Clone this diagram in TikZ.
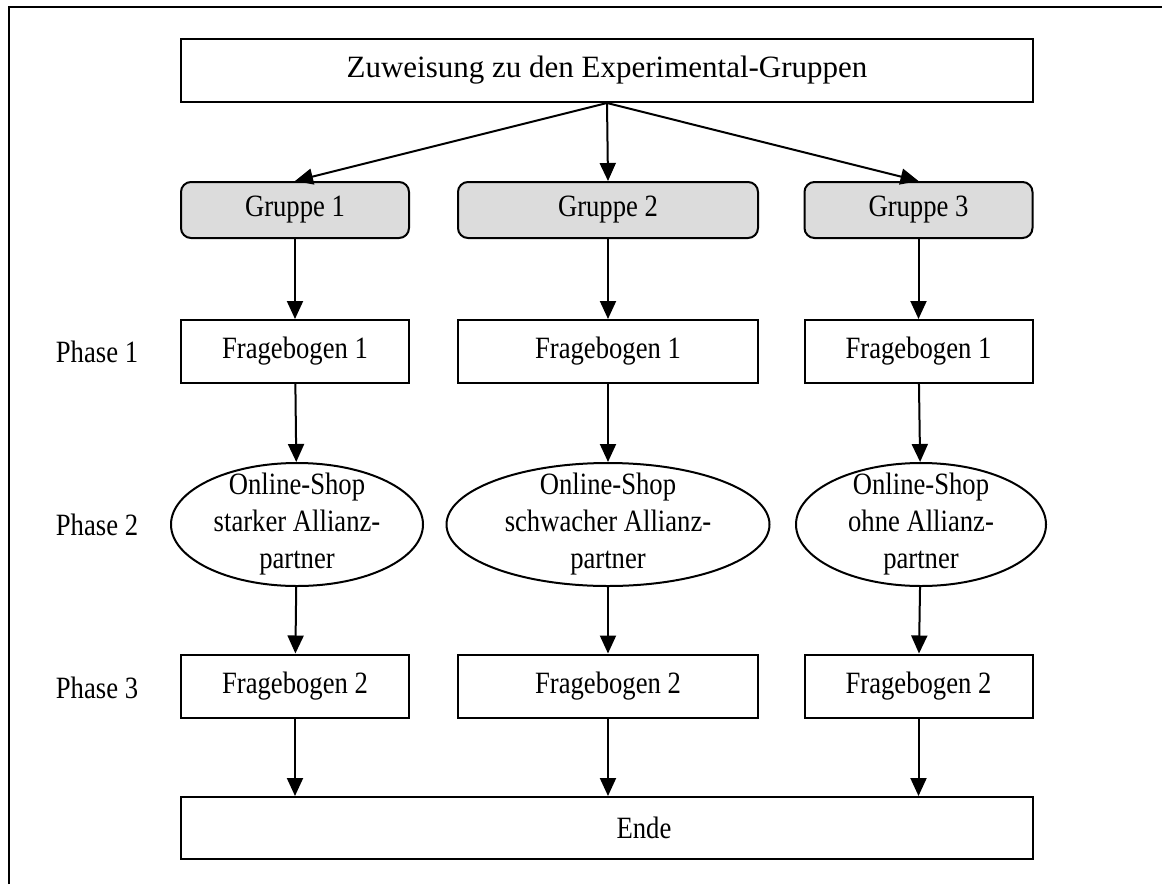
\documentclass[tikz,border=0pt]{standalone}
\usepackage{fontspec}
\setmainfont{Liberation Serif}
\newfontfamily\narrowfont{Liberation Serif}[FakeStretch=0.86]
\usetikzlibrary{arrows.meta,shapes.geometric}
\newcommand\textsz{\fontsize{15.5}{18.5}\selectfont}
\definecolor{boxgrey}{HTML}{DCDCDC}
\tikzset{
  box/.style={draw, rectangle, minimum height=31.5pt, inner sep=0pt, font=\narrowfont\textsz},
  gruppe/.style={box, fill=boxgrey, rounded corners=5pt, minimum height=28pt},
  shop/.style={draw, ellipse, inner xsep=-20pt, inner ysep=-8pt, align=center, minimum height=61.5pt, font=\narrowfont\textsz},
  phase/.style={font=\narrowfont\textsz},
}
\begin{document}
\begin{tikzpicture}[x=0.5pt, y=-0.5pt, line width=1pt, >={Triangle[length=9pt,width=8pt]}]
        \useasboundingbox (0,0) rectangle (1162,884);
        \draw (9,884) -- (9,7) -- (1162,7);

        \node[box, minimum width=426pt, font=\textsz] (zuw) at (607,70.5) {Zuweisung zu den Experimental-Gruppen};

        \node[gruppe, minimum width=114pt] (g1) at (295,210) {Gruppe 1};
        \node[gruppe, minimum width=150pt] (g2) at (608,210) {Gruppe 2};
        \node[gruppe, minimum width=114pt] (g3) at (918.5,210) {Gruppe 3};

        \node[phase] (p1) at (97,352) {Phase 1};
        \node[box, minimum width=114pt] (fa1) at (295,351.5) {Fragebogen 1};
        \node[box, minimum width=150pt] (fa2) at (608,351.5) {Fragebogen 1};
        \node[box, minimum width=114pt] (fa3) at (918.5,351.5) {Fragebogen 1};

        \node[phase] (p2) at (97,525) {Phase 2};
        \node[shop, minimum width=126pt] (s1) at (297,524.5) {Online-Shop\\starker Allianz-\\partner};
        \node[shop, minimum width=161.5pt] (s2) at (608,524.5) {Online-Shop\\schwacher Allianz-\\partner};
        \node[shop, minimum width=125pt] (s3) at (921,524.5) {Online-Shop\\ohne Allianz-\\partner};

        \node[phase] (p3) at (97,688) {Phase 3};
        \node[box, minimum width=114pt] (fb1) at (295,686) {Fragebogen 2};
        \node[box, minimum width=150pt] (fb2) at (608,686) {Fragebogen 2};
        \node[box, minimum width=114pt] (fb3) at (918.5,686) {Fragebogen 2};

        \node[box, minimum width=426pt, minimum height=31pt] (ende) at (607,828) {\hspace*{37pt}Ende};

        \draw[->] (zuw.south) -- (g1.north);
        \draw[->] (zuw.south) -- (g2.north);
        \draw[->] (zuw.south) -- (g3.north);

        \draw[->] (g1) -- (fa1);
        \draw[->] (g2) -- (fa2);
        \draw[->] (g3) -- (fa3);

        \draw[->] (fa1) -- (s1);
        \draw[->] (fa2) -- (s2);
        \draw[->] (fa3) -- (s3);

        \draw[->] (s1) -- (fb1);
        \draw[->] (s2) -- (fb2);
        \draw[->] (s3) -- (fb3);

        \draw[->] (fb1.south) -- (fb1.south |- ende.north);
        \draw[->] (fb2.south) -- (fb2.south |- ende.north);
        \draw[->] (fb3.south) -- (fb3.south |- ende.north);
      \end{tikzpicture}
\end{document}
